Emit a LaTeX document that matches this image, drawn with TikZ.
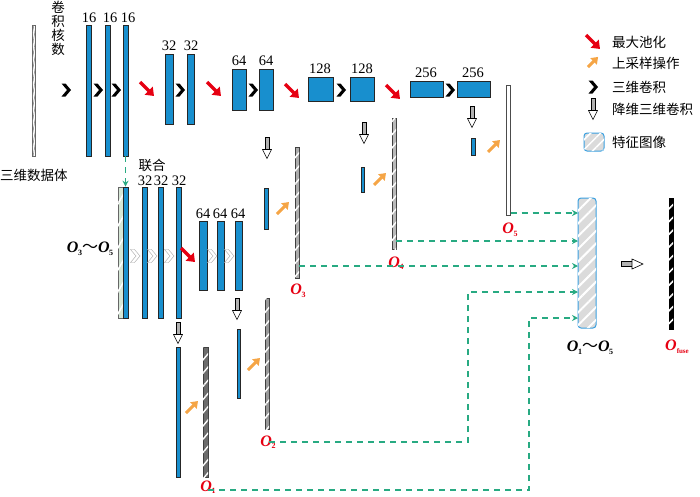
\documentclass[tikz,border=0pt]{standalone}
\usepackage{fontspec}
\setmainfont{Liberation Serif}
\newfontfamily\cjk{Noto Sans CJK SC}
\usetikzlibrary{fit,arrows.meta,patterns.meta}
\definecolor{barblue}{RGB}{24,143,206}
\definecolor{dgreen}{RGB}{40,170,130}
\definecolor{poolred}{RGB}{230,0,18}
\definecolor{uporange}{RGB}{245,165,70}
\definecolor{boxblue}{RGB}{58,160,224}
\newcommand{\olab}[1]{\textbf{\textit{O}}\kern-0.5pt\raisebox{-0.35ex}{\footnotesize\textbf{#1}}}
\begin{document}
\begin{tikzpicture}[x=1pt,y=-1pt,
  bar/.style={draw=black!85,line width=0.6pt,fill=barblue,inner sep=0pt},
  obar/.style={draw=black!75,line width=0.6pt,fill=#1,inner sep=0pt,
    postaction={pattern={Lines[angle=50,distance=8.5pt,line width=1.4pt]},pattern color=white}},
  inbar/.style={draw=black!60,line width=0.6pt,fill=white,inner sep=0pt,
    postaction={pattern={Lines[angle=80,distance=2.2pt,line width=0.5pt]},pattern color=gray}},
  num/.style={font=\fontsize{14.5}{14.5}\selectfont,inner sep=0pt},
  cjkt/.style={font=\cjk\fontsize{13.5}{14}\selectfont,inner sep=0pt},
  olabel/.style={font=\fontsize{16}{16}\selectfont,text=poolred,inner sep=0pt},
  conn/.style={dgreen,line width=1.8pt,dash pattern=on 6pt off 5pt},
  conv/.pic={\fill[black] (-4.5,-6.5) -- (-0.5,-6.5) -- (5,0) -- (-0.5,6.5) -- (-4.5,6.5) -- (1,0) -- cycle;},
  fconv/.pic={\filldraw[draw=black!35,fill=white,line width=0.4pt] (-4.5,-6.5) -- (-0.5,-6.5) -- (5,0) -- (-0.5,6.5) -- (-4.5,6.5) -- (1,0) -- cycle;},
  pool/.pic={\draw[poolred,line width=3.4pt,-{Triangle[length=7.5pt,width=11pt]}] (-7,-7) -- (7,7);},
  upop/.pic={\draw[uporange,line width=3pt,-{Triangle[length=6.5pt,width=9pt]}] (-6,6) -- (6,-6);},
  down/.pic={\filldraw[fill=gray!60,draw=black,line width=0.5pt] (-2,-11) rectangle (2,1.5);
             \filldraw[fill=white,draw=black,line width=0.6pt] (-4.5,1.5) -- (4.5,1.5) -- (0,10.5) -- cycle;},
  arr/.style={-{Stealth[length=6pt,width=6pt]}},
]
\useasboundingbox (0,0) rectangle (700,496);

% ---------- encoder ----------
\node[inbar,fit={(32,25) (35,156)}] (in) {};
\node[cjkt,align=center,text width=14pt] (knum) at (58,28) {卷\\积\\核\\数};
\node[cjkt,anchor=west] (indata) at (0,175) {三维数据体};

\node[bar,fit={(86,25) (91,156)}] (e1) {};
\node[bar,fit={(105,25) (110,156)}] (e2) {};
\node[bar,fit={(123,25) (128,156)}] (e3) {};
\node[num] (l1) at (89,18) {16};
\node[num] (l2) at (110,18) {16};
\node[num] (l3) at (128,18) {16};
\pic at (66,90) {conv};
\pic at (98,90) {conv};
\pic at (116,90) {conv};
\pic at (147,89) {pool};

\node[bar,fit={(165,54) (173,124)}] (e4) {};
\node[bar,fit={(187,54) (194,124)}] (e5) {};
\node[num] (l4) at (169,46) {32};
\node[num] (l5) at (191,46) {32};
\pic at (180,90) {conv};
\pic at (214,89) {pool};

\node[bar,fit={(232,69) (246,110)}] (e6) {};
\node[bar,fit={(259,69) (273,110)}] (e7) {};
\node[num] (l6) at (239,61) {64};
\node[num] (l7) at (266,61) {64};
\pic at (253,90) {conv};
\pic at (292,91) {pool};

\node[bar,fit={(308,77) (333,101)}] (e8) {};
\node[bar,fit={(350,77) (374,101)}] (e9) {};
\node[num] (l8) at (320,69) {128};
\node[num] (l9) at (362,69) {128};
\pic at (341,90) {conv};
\pic at (393,92) {pool};

\node[bar,fit={(410,81) (443,97)}] (e10) {};
\node[bar,fit={(457,81) (490,97)}] (e11) {};
\node[num] (l10) at (426,73) {256};
\node[num] (l11) at (473,73) {256};
\pic at (450,90) {conv};

% ---------- O5 branch ----------
\pic at (472,117) {down};
\node[bar,fit={(471,138) (475,155)}] (s5) {};
\pic at (494,146) {upop};
\node[draw=black!70,line width=1pt,fill=white,inner sep=0pt,fit={(506,85) (510,215)}] (o5) {};
\node[olabel] (o5l) at (510,230) {\olab{5}};

% ---------- O4 branch ----------
\pic at (364,133) {down};
\node[bar,fit={(361,167) (364,192)}] (s4) {};
\pic at (380,179) {upop};
\node[obar=gray!55,fit={(392,118) (396,249)}] (o4) {};
\node[olabel] (o4l) at (396,263) {\olab{4}};

% ---------- O3 branch ----------
\pic at (267,148) {down};
\node[bar,fit={(264,188) (268,229)}] (s3) {};
\pic at (283,208) {upop};
\node[obar=gray!65,fit={(295,147) (299,278)}] (o3) {};
\node[olabel] (o3l) at (298,291) {\olab{3}};

% ---------- decoder ----------
\node[cjkt] (lianhe) at (152,165) {联合};
\node[draw=black!60,line width=0.5pt,fill=green!25!gray!25,inner sep=0pt,fit={(118,187) (123,318)},
  postaction={pattern={Lines[angle=60,distance=11pt,line width=1.5pt]},pattern color=white}] (cc) {};
\node[bar,fit={(123,187) (128,318)}] (d0) {};
\draw[conn,arr] (e3.south) -- (d0.north -| e3.south);
\node[font=\fontsize{16}{16}\selectfont,inner sep=0pt] (o35) at (90,249) {\olab{3}{\cjk～}\olab{5}};

\node[bar,fit={(142,187) (147,318)}] (d1) {};
\node[bar,fit={(158,187) (163,318)}] (d2) {};
\node[bar,fit={(176,187) (181,318)}] (d3) {};
\node[num] (ld1) at (145,181) {32};
\node[num] (ld2) at (161,181) {32};
\node[num] (ld3) at (179,181) {32};
\pic at (135,256) {fconv};
\pic at (152,256) {fconv};
\pic at (169,256) {fconv};
\pic at (188,255) {pool};

\node[bar,fit={(199,221) (207,290)}] (d4) {};
\node[bar,fit={(217,221) (224,290)}] (d5) {};
\node[bar,fit={(235,221) (242,290)}] (d6) {};
\node[num] (ld4) at (203,214) {64};
\node[num] (ld5) at (220,214) {64};
\node[num] (ld6) at (238,214) {64};
\pic at (212,256) {fconv};
\pic at (229,256) {fconv};

% ---------- O2 branch ----------
\pic at (237,309) {down};
\node[bar,fit={(237,329) (240,398)}] (s2) {};
\pic at (254,364) {upop};
\node[obar=gray!80,fit={(265,298) (269,429)}] (o2) {};
\node[olabel] (o2l) at (268,442) {\olab{2}};

% ---------- O1 branch ----------
\pic at (178,333) {down};
\node[bar,fit={(176,347) (180,477)}] (s1) {};
\pic at (192,407) {upop};
\node[obar=gray!85!black,fit={(203,347) (208,477)}] (o1) {};
\node[olabel] (o1l) at (208,487) {\olab{1}};

% ---------- fusion ----------
\node[draw=boxblue,line width=1pt,rounded corners=3pt,fill=gray!28,inner sep=0pt,fit={(578,198) (596,328)},
  postaction={pattern={Lines[angle=45,distance=9pt,line width=2pt]},pattern color=white}] (fb) {};
\node[font=\fontsize{16}{16}\selectfont,inner sep=0pt] (fbl) at (590,348) {\olab{1}{\cjk～}\olab{5}};
\coordinate (t5) at (578,213);
\coordinate (t4) at (578,241);
\coordinate (t3) at (578,266);
\coordinate (t2) at (578,292);
\coordinate (t1) at (578,318);
\coordinate (k2) at (468,292);
\coordinate (k1) at (529,318);
\draw[conn,arr] (o5.east |- t5) -- (t5);
\draw[conn,arr] (o4.east |- t4) -- (t4);
\draw[conn,arr] (o3.east |- t3) -- (t3);
\draw[conn,arr] ([yshift=-13pt]o2.south east) -| (k2) -- (t2);
\draw[conn,arr] ([yshift=-13pt]o1.south east) -| (k1) -- (t1);

\node[fill=black,draw=black,inner sep=0pt,fit={(669,198) (673,329)},
  postaction={pattern={Lines[angle=45,distance=9pt,line width=1.6pt]},pattern color=white}] (of) {};
\node[olabel] (ofl) at (677,347) {\textbf{\textit{O}}\raisebox{-0.35ex}{\scriptsize\textbf{fuse}}};
\filldraw[fill=gray!60,draw=black,line width=0.5pt] (621,261.5) rectangle (632,266.5);
\filldraw[fill=white,draw=black,line width=0.6pt] (632,259) -- (643,264) -- (632,269) -- cycle;

% ---------- legend ----------
\pic at (593,42) {pool};
\node[cjkt,anchor=west] (lg1) at (612,42) {最大池化};
\pic[scale=0.85] at (593,62) {upop};
\node[cjkt,anchor=west] (lg2) at (612,63) {上采样操作};
\pic at (593,87) {conv};
\node[cjkt,anchor=west] (lg3) at (612,87) {三维卷积};
\pic at (593,109) {down};
\node[cjkt,anchor=west] (lg4) at (612,109) {降维三维卷积};
\node[draw=boxblue,line width=1pt,rounded corners=3pt,fill=gray!28,inner sep=0pt,fit={(584,133) (604,151)},
  postaction={pattern={Lines[angle=45,distance=7pt,line width=1.5pt]},pattern color=white}] (lgbox) {};
\node[cjkt,anchor=west] (lg5) at (612,142) {特征图像};
\end{tikzpicture}
\end{document}
